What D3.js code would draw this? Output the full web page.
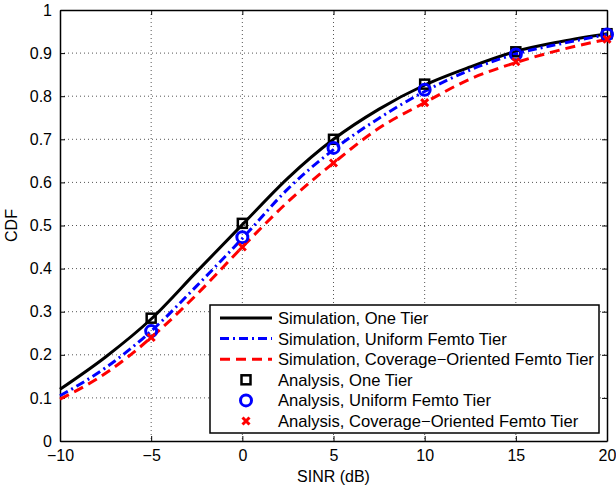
<!DOCTYPE html>
<meta charset="utf-8">
<style>
  body { margin: 0; background: #fff; }
  text { font-family: "Liberation Sans", Arial, sans-serif; }
</style>
<svg width="616" height="490"></svg>
<script src="https://d3js.org/d3.v7.min.js"></script>
<script>
// values
var sinr = [-10, -7.5, -5, -2.5, 0, 2.5, 5, 7.5, 10, 12.5, 15, 17.5, 20];
var simOne      = [0.120, 0.195, 0.283, 0.393, 0.502, 0.610, 0.700, 0.770, 0.826, 0.868, 0.904, 0.927, 0.945];
var simUniform  = [0.105, 0.170, 0.255, 0.360, 0.470, 0.585, 0.676, 0.749, 0.811, 0.861, 0.898, 0.922, 0.943];
var simCoverage = [0.097, 0.157, 0.240, 0.340, 0.450, 0.555, 0.645, 0.726, 0.785, 0.840, 0.878, 0.908, 0.932];

var anaX = [-5, 0, 5, 10, 15, 20];
var anaOne      = [0.285, 0.505, 0.700, 0.828, 0.903, 0.945];
var anaUniform  = [0.255, 0.473, 0.680, 0.815, 0.897, 0.943];
var anaCoverage = [0.240, 0.450, 0.645, 0.785, 0.880, 0.932];

var xTicks = [-10, -5, 0, 5, 10, 15, 20];
var yTicks = [0, 0.1, 0.2, 0.3, 0.4, 0.5, 0.6, 0.7, 0.8, 0.9, 1];

var legendLabels = [
  "Simulation, One Tier",
  "Simulation, Uniform Femto Tier",
  "Simulation, Coverage\u2212Oriented Femto Tier",
  "Analysis, One Tier",
  "Analysis, Uniform Femto Tier",
  "Analysis, Coverage\u2212Oriented Femto Tier"
];

var svg = d3.select("svg");
var pL = 60, pR = 607, pT = 10, pB = 441;
var fs = 16;

var x = d3.scaleLinear().domain([-10, 20]).range([pL, pR]);
var y = d3.scaleLinear().domain([0, 1]).range([pB, pT]);

// grid
svg.append("g").selectAll("line").data(xTicks.slice(1, -1)).join("line")
    .attr("x1", d => x(d)).attr("x2", d => x(d))
    .attr("y1", pT).attr("y2", pB)
    .attr("stroke", "#555").attr("stroke-width", 1).attr("stroke-dasharray", "1,3");
svg.append("g").selectAll("line").data(yTicks.slice(1, -1)).join("line")
    .attr("x1", pL).attr("x2", pR)
    .attr("y1", d => y(d)).attr("y2", d => y(d))
    .attr("stroke", "#555").attr("stroke-width", 1).attr("stroke-dasharray", "1,3");

// axes with inward ticks, all four sides
var fmt = d => d < 0 ? "\u2212" + Math.abs(d) : String(d);
var axB = svg.append("g").attr("transform", "translate(0," + pB + ")")
    .call(d3.axisBottom(x).tickValues(xTicks).tickSizeInner(-5).tickSizeOuter(0).tickPadding(9).tickFormat(fmt));
var axT = svg.append("g").attr("transform", "translate(0," + pT + ")")
    .call(d3.axisTop(x).tickValues(xTicks).tickSizeInner(-5).tickSizeOuter(0).tickFormat(""));
var axL = svg.append("g").attr("transform", "translate(" + pL + ",0)")
    .call(d3.axisLeft(y).tickValues(yTicks).tickSizeInner(-5).tickSizeOuter(0).tickPadding(8).tickFormat(d => String(d)));
var axR = svg.append("g").attr("transform", "translate(" + pR + ",0)")
    .call(d3.axisRight(y).tickValues(yTicks).tickSizeInner(-5).tickSizeOuter(0).tickFormat(""));
[axB, axT, axL, axR].forEach(function(a) {
  a.selectAll(".domain").attr("stroke", "#000").attr("stroke-width", 1.5);
  a.selectAll(".tick line").attr("stroke", "#000");
  a.selectAll("text").attr("font-size", fs).attr("fill", "#000")
      .style("font-family", "'Liberation Sans', Arial, sans-serif");
});

// axis titles
svg.append("text").attr("x", (pL + pR) / 2).attr("y", 482)
    .attr("text-anchor", "middle").attr("font-size", fs).text("SINR (dB)");
svg.append("text").attr("transform", "translate(17," + (pT + pB) / 2 + ") rotate(-90)")
    .attr("text-anchor", "middle").attr("font-size", fs).text("CDF");

// curves
var line = d3.line().x((d, i) => x(sinr[i])).y(d => y(d)).curve(d3.curveMonotoneX);
var series = [
  { vals: simOne, color: "#000", dash: null },
  { vals: simUniform, color: "#0000ff", dash: "9,4,2,4" },
  { vals: simCoverage, color: "#ff0000", dash: "10,6" }
];
var plot = svg.append("g");
series.forEach(function(s) {
  plot.append("path").datum(s.vals).attr("d", line)
      .attr("fill", "none").attr("stroke", s.color).attr("stroke-width", 3)
      .attr("stroke-dasharray", s.dash);
});

// markers
function square(g, cx, cy) {
  g.append("rect").attr("x", cx - 4.5).attr("y", cy - 4.5).attr("width", 9).attr("height", 9)
      .attr("fill", "none").attr("stroke", "#000").attr("stroke-width", 2.5);
}
function circle(g, cx, cy) {
  g.append("circle").attr("cx", cx).attr("cy", cy).attr("r", 5.5)
      .attr("fill", "none").attr("stroke", "#0000ff").attr("stroke-width", 3);
}
function cross(g, cx, cy) {
  g.append("path").attr("d", "M" + (cx - 3.5) + "," + (cy - 3.5) + "L" + (cx + 3.5) + "," + (cy + 3.5) +
      "M" + (cx - 3.5) + "," + (cy + 3.5) + "L" + (cx + 3.5) + "," + (cy - 3.5))
      .attr("stroke", "#ff0000").attr("stroke-width", 3);
}
anaX.forEach(function(v, i) {
  square(plot, x(v), y(anaOne[i]));
  circle(plot, x(v), y(anaUniform[i]));
  cross(plot, x(v), y(anaCoverage[i]));
});

// legend
var lg = svg.append("g");
lg.append("rect").attr("x", 210).attr("y", 305).attr("width", 389).attr("height", 128)
    .attr("fill", "#fff").attr("stroke", "#000").attr("stroke-width", 1.5);
var rowY = d3.range(6).map(i => 318 + i * 20.6);
legendLabels.forEach(function(t, i) {
  var cy = rowY[i];
  if (i < 3) {
    lg.append("line").attr("x1", 220).attr("x2", 272).attr("y1", cy).attr("y2", cy)
        .attr("stroke", series[i].color).attr("stroke-width", 3)
        .attr("stroke-dasharray", series[i].dash);
  } else if (i === 3) square(lg, 246, cy);
  else if (i === 4) circle(lg, 246, cy);
  else cross(lg, 246, cy);
  lg.append("text").attr("x", 278).attr("y", cy + 6).attr("font-size", 16.6).text(t);
});
</script>
